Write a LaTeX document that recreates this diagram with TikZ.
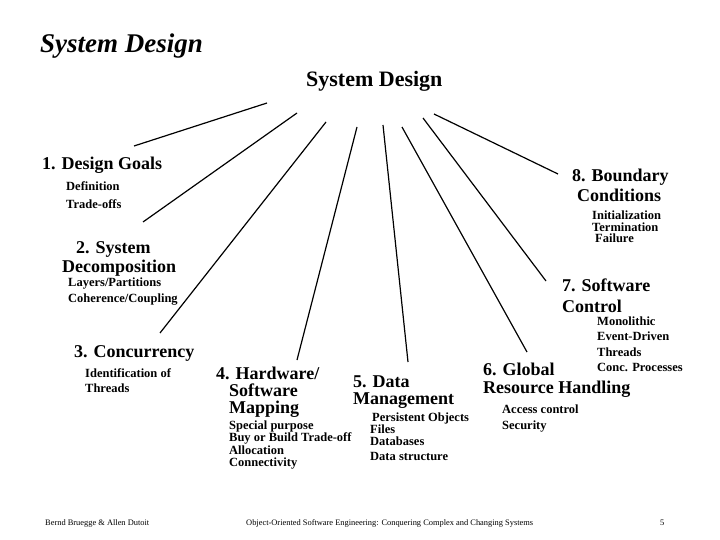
\documentclass[tikz,border=0pt]{standalone}
\usepackage{fontspec}
\setmainfont{Liberation Serif}
\begin{document}
\begin{tikzpicture}[x=1pt,y=-1pt,
  head/.style={font=\bfseries\fontsize{18}{18}\selectfont, anchor=base west, inner sep=0pt},
  sub/.style={font=\bfseries\fontsize{12.5}{13}\selectfont, anchor=base west, inner sep=0pt},
  foot/.style={font=\fontsize{8.4}{9}\selectfont, anchor=base west, inner sep=0pt},
  spoke/.style={draw=black, line width=1.2pt}]
\fill[white] (0,0) rectangle (720,540);
\useasboundingbox (0,0) rectangle (720,540);
% titles
\node[anchor=base west, inner sep=0pt, font=\bfseries\itshape\fontsize{27}{27}\selectfont] (title) at (40,53) {System Design};
\node[anchor=base west, inner sep=0pt, font=\bfseries\fontsize{22}{22}\selectfont] (root) at (306,87) {System Design};
% spoke end points
\coordinate (s1) at (267,103); \coordinate (e1) at (134,146);
\coordinate (s2) at (297,113); \coordinate (e2) at (143,222);
\coordinate (s3) at (326,122); \coordinate (e3) at (160,333);
\coordinate (s4) at (357,127); \coordinate (e4) at (297,360);
\coordinate (s5) at (383,125); \coordinate (e5) at (408,362);
\coordinate (s6) at (402,127); \coordinate (e6) at (527,352);
\coordinate (s7) at (423,118); \coordinate (e7) at (546,281);
\coordinate (s8) at (434,114); \coordinate (e8) at (558,174);
\foreach \i in {1,...,8} {\draw[spoke] (s\i) -- (e\i);}
% 1
\node[head] (h1) at (42,170) {1. Design Goals};
\node[sub] (h1a) at (66,191) {Definition};
\node[sub] (h1b) at (66,208) {Trade-offs};
% 2
\node[head] (h2a) at (76,253) {2. System};
\node[head] (h2b) at (62,272) {Decomposition};
\node[sub] (h2c) at (68,286) {Layers/Partitions};
\node[sub] (h2d) at (68,302) {Coherence/Coupling};
% 3
\node[head] (h3) at (74,357) {3. Concurrency};
\node[sub] (h3a) at (85,377) {Identification of};
\node[sub] (h3b) at (85,392) {Threads};
% 4
\node[head] (h4a) at (216,379) {4. Hardware/};
\node[head] (h4b) at (229,396) {Software};
\node[head] (h4c) at (229,413) {Mapping};
\node[sub] (h4d) at (229,429) {Special purpose};
\node[sub] (h4e) at (229,441) {Buy or Build Trade-off};
\node[sub] (h4f) at (229,454) {Allocation};
\node[sub] (h4g) at (229,466) {Connectivity};
% 5
\node[head] (h5a) at (353,387) {5. Data};
\node[head] (h5b) at (353,404) {Management};
\node[sub] (h5c) at (372,421) {Persistent Objects};
\node[sub] (h5d) at (370,433) {Files};
\node[sub] (h5e) at (370,445) {Databases};
\node[sub] (h5f) at (370,460) {Data structure};
% 6
\node[head] (h6a) at (483,375) {6. Global};
\node[head] (h6b) at (483,393) {Resource Handling};
\node[sub] (h6c) at (502,413) {Access control};
\node[sub] (h6d) at (502,429) {Security};
% 7
\node[head] (h7a) at (562,291) {7. Software};
\node[head] (h7b) at (562,312) {Control};
\node[sub] (h7c) at (597,325) {Monolithic};
\node[sub] (h7d) at (597,340) {Event-Driven};
\node[sub] (h7e) at (597,356) {Threads};
\node[sub] (h7f) at (597,371) {Conc. Processes};
% 8
\node[head] (h8a) at (572,182) {8. Boundary};
\node[head] (h8b) at (577,202) {Conditions};
\node[sub] (h8c) at (592,219) {Initialization};
\node[sub] (h8d) at (592,231) {Termination};
\node[sub] (h8e) at (595,243) {Failure};
% footer
\node[foot] (f1) at (45,525) {Bernd Bruegge \& Allen Dutoit};
\node[foot] (f2) at (246,525) {Object-Oriented Software Engineering: Conquering Complex and Changing Systems};
\node[foot] (f3) at (660,525) {5};
\end{tikzpicture}
\end{document}
